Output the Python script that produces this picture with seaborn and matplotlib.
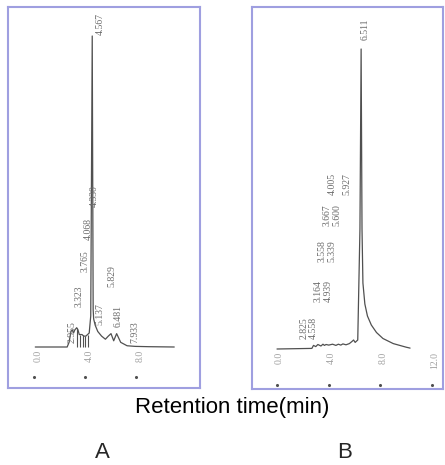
#!/usr/bin/env python3
"""
Chromatograms of two samples (A and B) drawn side by side,
peaks labelled with their retention times.
"""
import numpy as np
import matplotlib
matplotlib.use("Agg")
import matplotlib.pyplot as plt
import seaborn as sns

# --- trace A (time in min, signal in % of main peak) ---
time_a = [0.1, 2.6, 2.75, 2.9, 3.0, 3.1, 3.2, 3.35, 3.45, 3.55, 3.765, 3.9,
          4.068, 4.2, 4.33, 4.45, 4.567, 4.64, 4.68, 4.8, 5.0, 5.3, 5.6, 5.829,
          6.04, 6.25, 6.481, 6.8, 7.3, 7.933, 9.0, 11.0]
signal_a = [0, 0, 1.5, 5.0, 5.5, 4.5, 5.5, 6.2, 5.5, 4.0, 4.0, 3.5,
            3.5, 4.0, 4.5, 10, 100, 12, 9, 7, 5, 3.5, 2.5, 3.5,
            4.3, 2.0, 4.3, 1.5, 0.4, 0.2, 0.1, 0]
# integration drop lines in A
drop_a = [3.37, 3.6, 3.85, 4.0, 4.2]
drop_h_a = [6.1, 4.0, 3.7, 3.5, 4.0]

# --- trace B ---
time_b = [0.0, 2.7, 2.825, 3.0, 3.164, 3.4, 3.558, 3.667, 3.8, 4.005, 4.3, 4.558,
          4.75, 4.939, 5.1, 5.339, 5.6, 5.8, 5.927, 6.05, 6.25, 6.42, 6.511, 6.58,
          6.65, 6.8, 7.0, 7.3, 7.7, 8.2, 9.0, 10.0, 10.3]
signal_b = [0, 0.2, 1.2, 0.8, 1.5, 1.0, 1.6, 1.2, 1.5, 1.3, 1.6, 1.2,
            1.6, 1.3, 1.7, 1.4, 1.8, 2.5, 3.0, 2.2, 3.0, 40, 100, 40,
            22, 15, 11, 8, 5.5, 3.5, 1.8, 0.6, 0.3]

# peak labels (retention times as printed)
peaks_a = ["4.567", "4.330", "4.068", "3.765", "3.323", "2.955",
           "5.137", "5.829", "6.481", "7.933"]
peaks_b = ["2.825", "4.558", "3.164", "4.939", "3.558", "5.339",
           "3.667", "5.600", "4.005", "5.927", "6.511"]

ticks_a = [0.0, 4.0, 8.0]
ticks_b = [0.0, 4.0, 8.0, 12.0]

# label anchor points (data units), placed as on the printout
pos_a = [(5.18, 100.3), (4.71, 45), (4.24, 34.4), (4.0, 24.1), (3.53, 12.9),
         (2.98, 1.3), (5.18, 7.1), (6.12, 19.3), (6.59, 6.4), (7.92, 1.3)]
pos_b = [(2.09, 3.3), (2.79, 3.3), (3.17, 15.7), (3.95, 15.7), (3.48, 29),
         (4.26, 29), (3.87, 41), (4.64, 41), (4.26, 51.3), (5.42, 51.3),
         (6.81, 103)]

sns.set_style("white")
plt.rcParams['font.family'] = ['Liberation Sans', 'DejaVu Sans']

W, H = 445, 465
fig = plt.figure(figsize=(W / 100, H / 100), dpi=100)

frame_col = '#9f9fe0'
trace_col = '#505050'
label_col = '#6a6a6a'
tick_col = '#a0a0a0'


def px_axes(x0, y0, x1, y1):
    return fig.add_axes([x0 / W, 1 - y1 / H, (x1 - x0) / W, (y1 - y0) / H])


def draw_panel(ax, t, s, labels, pos, ticks, tick_dx, dot_y, xlim, ylim):
    sns.lineplot(x=t, y=s, ax=ax, color=trace_col, linewidth=0.9,
                 sort=False, estimator=None)
    ax.set_xlim(*xlim)
    ax.set_ylim(*ylim)
    for lab, (x, y) in zip(labels, pos):
        ax.text(x, y, lab, rotation=90, ha='center', va='bottom',
                fontsize=7, color=label_col, family='Liberation Serif')
    for tk in ticks:
        ax.text(tk + tick_dx, -1.0, f"{tk:.1f}", rotation=90, ha='center',
                va='top', fontsize=7, color=tick_col, family='Liberation Serif')
    ax.scatter(ticks, [dot_y] * len(ticks), s=1.5, color='#505050', zorder=3)
    ax.set_xticks([])
    ax.set_yticks([])
    ax.set_xlabel('')
    ax.set_ylabel('')
    for sp in ax.spines.values():
        sp.set_color(frame_col)
        sp.set_linewidth(1.5)


# panel A: t=0 at x=34px, 12.75 px/min; baseline y=347px, 3.11 px/unit
ax_a = px_axes(8, 7, 200, 388)
draw_panel(ax_a, time_a, signal_a, peaks_a, pos_a, ticks_a, 0.3, -9.6,
           ((8 - 34) / 12.75, (200 - 34) / 12.75),
           (-(388 - 347) / 3.11, (347 - 7) / 3.11))
ax_a.vlines(drop_a, 0, drop_h_a, color=trace_col, linewidth=0.8)

# panel B: t=0 at x=277px, 12.92 px/min; baseline y=349px, 3.0 px/unit
ax_b = px_axes(252, 7, 443, 389)
draw_panel(ax_b, time_b, signal_b, peaks_b, pos_b, ticks_b, 0.2, -12,
           ((252 - 277) / 12.92, (443 - 277) / 12.92),
           (-(389 - 349) / 3.0, (349 - 7) / 3.0))

fig.text(232 / W, 1 - 407 / H, "Retention time(min)", ha='center',
         va='center', fontsize=16, color='black')
fig.text(102 / W, 1 - 452 / H, "A", ha='center', va='center', fontsize=16)
fig.text(345 / W, 1 - 452 / H, "B", ha='center', va='center', fontsize=16)

fig.savefig("out.png", dpi=100)
plt.close(fig)
